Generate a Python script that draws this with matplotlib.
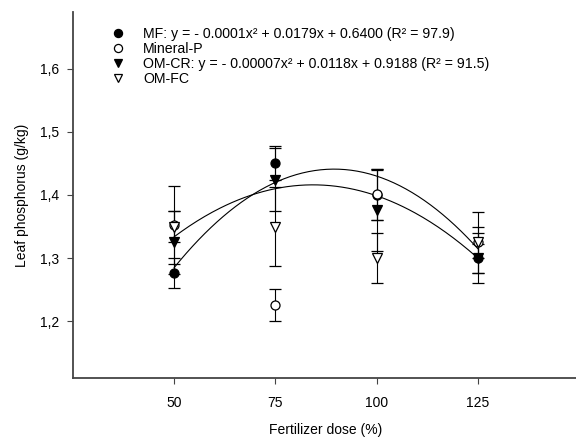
import matplotlib
matplotlib.use("Agg")
import matplotlib.pyplot as plt
import numpy as np

plt.rcParams['font.family'] = ['Liberation Sans', 'DejaVu Sans']

doses = [50, 75, 100, 125]

mf = [1.276, 1.450, 1.400, 1.300]
mf_err = [0.024, 0.027, 0.040, 0.023]

mineral_p = [1.352, 1.226, 1.401, 1.325]
mineral_p_err = [0.062, 0.025, 0.040, 0.048]

om_cr = [1.325, 1.424, 1.376, 1.300]
om_cr_err = [0.050, 0.050, 0.065, 0.040]

om_fc = [1.350, 1.350, 1.300, 1.325]
om_fc_err = [0.025, 0.063, 0.040, 0.025]

mf_coef = [-0.0001, 0.0179, 0.6400]
om_cr_coef = [-0.00007, 0.0118, 0.9188]

labels = [
    "MF: y = - 0.0001x² + 0.0179x + 0.6400 (R² = 97.9)",
    "Mineral-P",
    "OM-CR: y = - 0.00007x² + 0.0118x + 0.9188 (R² = 91.5)",
    "OM-FC",
]
yticks = [1.2, 1.3, 1.4, 1.5, 1.6]
ytick_labels = ["1,2", "1,3", "1,4", "1,5", "1,6"]

fig = plt.figure(figsize=(5.76, 4.42), dpi=100)
ax = fig.add_axes([73/576, 1-378/442, 506/576, 366/442])

eb_kw = dict(ecolor='black', elinewidth=0.8, capsize=4, capthick=0.8,
             linestyle='none', markersize=6.5, markeredgewidth=0.9,
             markeredgecolor='black')

h1 = ax.errorbar(doses, mf, yerr=mf_err, marker='o', markerfacecolor='black', **eb_kw)
h2 = ax.errorbar(doses, mineral_p, yerr=mineral_p_err, marker='o', markerfacecolor='white', **eb_kw)
h3 = ax.errorbar(doses, om_cr, yerr=om_cr_err, marker='v', markerfacecolor='black', **eb_kw)
h4 = ax.errorbar(doses, om_fc, yerr=om_fc_err, marker='v', markerfacecolor='white', **eb_kw)

xs = np.linspace(doses[0], doses[-1], 200)
ax.plot(xs, np.polyval(mf_coef, xs), color='black', lw=0.8, zorder=1)
ax.plot(xs, np.polyval(om_cr_coef, xs), color='black', lw=0.8, zorder=1)

ax.set_xlim(25, 150)
ax.set_ylim(1.11, 1.69)
ax.set_xticks(doses)
ax.set_xticklabels([str(d) for d in doses])
ax.set_yticks(yticks)
ax.set_yticklabels(ytick_labels)

for s in ['top', 'right']:
    ax.spines[s].set_visible(False)
for s in ['left', 'bottom']:
    ax.spines[s].set_color('#444444')
    ax.spines[s].set_linewidth(1.3)
ax.tick_params(axis='both', direction='out', length=4, width=0.8,
               color='#444444', labelsize=10, pad=6)
ax.tick_params(axis='x', pad=9)

ax.set_xlabel("Fertilizer dose (%)", fontsize=10, labelpad=9)
ax.set_ylabel("Leaf phosphorus (g/kg)", fontsize=10, labelpad=8)

handles = [h1[0], h2[0], h3[0], h4[0]]
leg = ax.legend(handles, labels, loc='upper left', bbox_to_anchor=(0.074, 0.960),
                frameon=False, fontsize=10.2, handlelength=1.0, handletextpad=1.3,
                labelspacing=0.08, borderpad=0, borderaxespad=0, numpoints=1,
                markerscale=0.9)

fig.savefig("out.png", dpi=100)
